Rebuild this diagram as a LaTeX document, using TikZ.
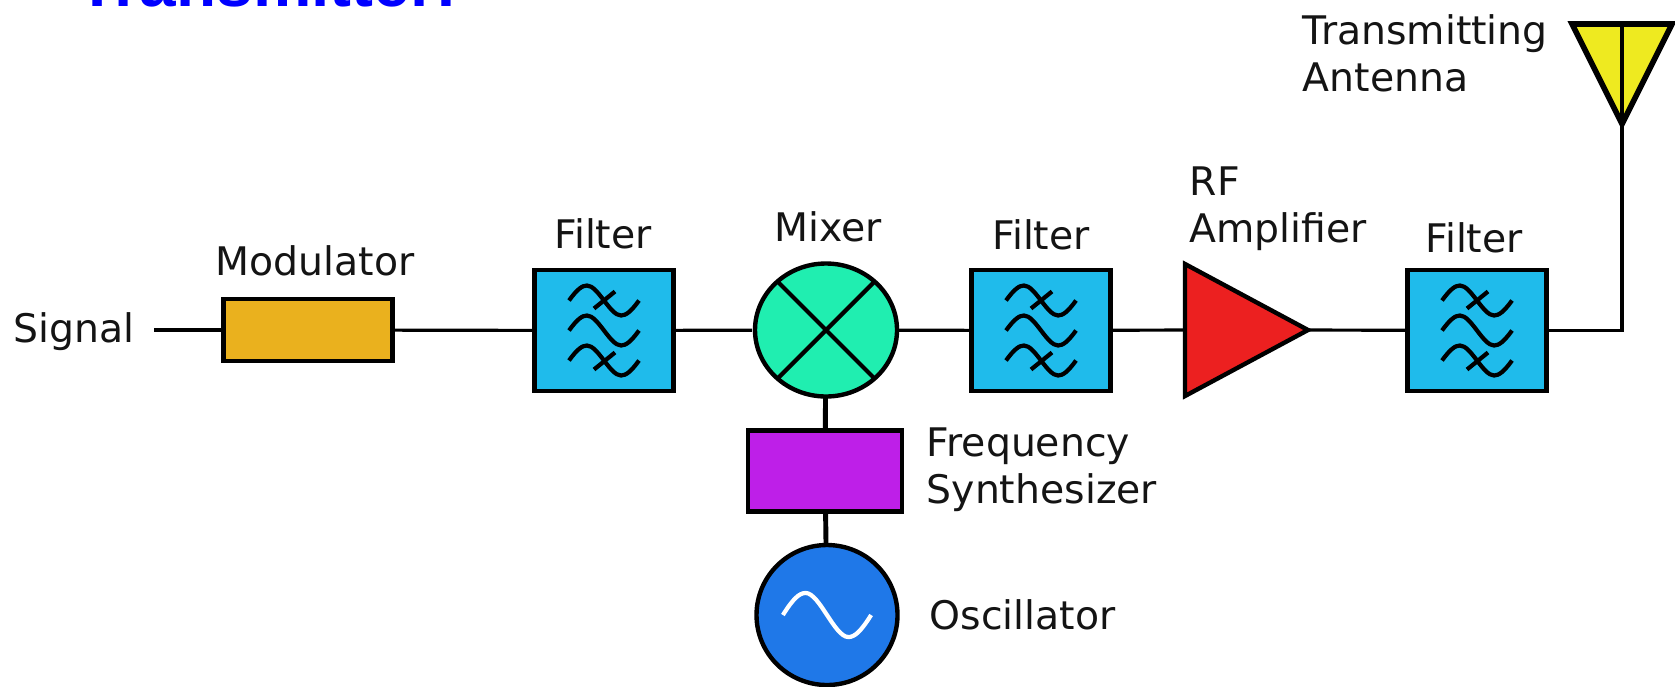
\documentclass[tikz,border=0pt]{standalone}
\usepackage{fontspec}
\usetikzlibrary{shapes.geometric}
\setmainfont{DejaVu Sans}
\newfontfamily\titlefont{Liberation Sans}
\begin{document}
\begin{tikzpicture}[
  lbl/.style={inner sep=0pt,align=left,anchor=west,text=black!92,font=\fontsize{11.2}{13.4}\selectfont},
  lblc/.style={inner sep=0pt,text=black!92,font=\fontsize{11.2}{13.4}\selectfont},
  block/.style={draw,rectangle,line width=1.25pt,inner sep=0pt,outer sep=0pt},
  filt/.style={block,fill=filtcol,minimum width=1.39cm,minimum height=1.21cm},
  round/.style={draw,ellipse,line width=1.25pt,inner sep=0pt,outer sep=0pt},
  conn/.style={line width=0.9pt},
  wave/.pic={\draw[line width=1.2pt] (-.35,0) .. controls (-.27,.11) and (-.22,.15) .. (-.17,.15) .. controls (-.06,.15) and (.06,-.15) .. (.17,-.15) .. controls (.22,-.15) and (.27,-.11) .. (.35,0);},
  filtersign/.pic={
    \pic at (0,.30) {wave};
    \pic at (0,0) {wave};
    \pic at (0,-.30) {wave};
    \draw[line width=1.2pt] (-.10,.22) -- (.11,.39);
    \draw[line width=1.2pt] (-.10,-.39) -- (.11,-.22);
  }
]
\definecolor{filtcol}{HTML}{1FBBEB}
\useasboundingbox (0,0) rectangle (16.75,6.86);
\clip (0,0) rectangle (16.75,6.86);
\node[anchor=base west,inner sep=0pt,text={rgb,255:red,0;green,0;blue,255},font=\titlefont\bfseries\fontsize{18.7}{20}\selectfont] (title) at (0.77,6.80) {Transmitter:};
\node[lbl] (signal) at (0.13,3.54) {Signal};
\node[block,fill={rgb,255:red,234;green,177;blue,30},minimum width=1.69cm,minimum height=0.62cm] (mod) at (3.08,3.56) {};
\node[filt] (filt1) at (6.04,3.555) {};
\node[round,fill={rgb,255:red,32;green,238;blue,176},minimum width=1.42cm,minimum height=1.33cm] (mix) at (8.26,3.56) {};
\node[filt] (filt2) at (10.41,3.555) {};
\node[filt] (filt3) at (14.77,3.555) {};
\node[block,line width=1.4pt,fill={rgb,255:red,190;green,31;blue,232},minimum width=1.54cm,minimum height=0.81cm] (synth) at (8.25,2.15) {};
\node[round,fill={rgb,255:red,31;green,120;blue,232},minimum width=1.41cm,minimum height=1.40cm] (osc) at (8.27,0.71) {};
\coordinate (ampa) at (11.85,4.22);
\coordinate (ampb) at (11.85,2.90);
\coordinate (ampout) at (13.08,3.56);
\coordinate (ampin) at (11.85,3.56);
\draw[line width=1.25pt,fill={rgb,255:red,236;green,32;blue,32}] (ampa) -- (ampout) -- (ampb) -- cycle;
\coordinate (antl) at (15.72,6.62);
\coordinate (antr) at (16.72,6.62);
\coordinate (anttop) at (16.22,6.62);
\coordinate (anttip) at (16.22,5.62);
\draw[line width=1.6pt,fill={rgb,255:red,238;green,234;blue,32}] (antl) -- (antr) -- (anttip) -- cycle;
\draw[conn] (anttop) -- (anttip);
\draw[conn,shorten <=0.19cm] (signal.east |- mod) -- (mod);
\draw[conn] (mod) -- (filt1);
\draw[conn,shorten >=0.03cm] (filt1) -- (mix);
\draw[conn] (mix) -- (filt2);
\draw[conn] (filt2) -- (ampin);
\draw[conn] (ampout) -- (filt3);
\draw[conn] (filt3) -| (anttip);
\draw[line width=1.4pt] (mix) -- (synth);
\draw[line width=1.4pt] (synth) -- (osc);
\draw[line width=1.2pt] (mix.45) -- (mix.225);
\draw[line width=1.2pt] (mix.135) -- (mix.315);
\pic at (filt1) {filtersign};
\pic at (filt2) {filtersign};
\pic at (filt3) {filtersign};
\pic[white,xscale=1.26,yscale=1.47] at (osc) {wave};
\node[lblc] (modlbl) at (3.15,4.25) {Modulator};
\node[lblc] (filtlbla) at (6.03,4.52) {Filter};
\node[lblc] (mixlbl) at (8.28,4.59) {Mixer};
\node[lblc] (filtlblb) at (10.41,4.51) {Filter};
\node[lblc] (filtlblc) at (14.74,4.48) {Filter};
\node[lbl] (amplbl) at (11.89,4.77) {RF\\Amplifier};
\node[lbl] (synthlbl) at (9.26,2.165) {Frequency\\Synthesizer};
\node[lbl] (osclbl) at (9.29,0.71) {Oscillator};
\node[lbl] (antlbl) at (13.02,6.33) {Transmitting\\Antenna};
\end{tikzpicture}
\end{document}
